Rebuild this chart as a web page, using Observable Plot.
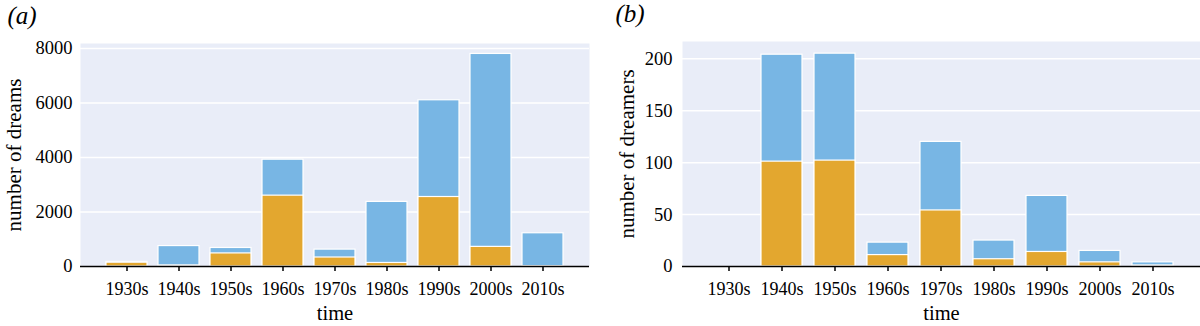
<!DOCTYPE html>
<html>
<head>
<meta charset="utf-8">
<script src="https://cdn.jsdelivr.net/npm/d3@7"></script>
<script src="https://cdn.jsdelivr.net/npm/@observablehq/plot@0.6"></script>
<style>
  body { margin: 0; background: white; }
  #wrap { display: flex; flex-direction: row; width: 1200px; height: 326px; }
  #wrap > div { width: 600px; height: 326px; }
  #wrap svg, #wrap svg text { font-family: "Liberation Serif", "Times New Roman", serif !important; }
</style>
</head>
<body>
<div id="wrap"><div id="pa"></div><div id="pb"></div></div>
<script>
const decades = ["1930s","1940s","1950s","1960s","1970s","1980s","1990s","2000s","2010s"];
const dreamsTotal  = [170, 750, 680, 3920, 620, 2370, 6100, 7800, 1220];
const dreamsSubset = [140, 40, 480, 2600, 330, 130, 2550, 720, 10];
const dreamersTotal  = [0, 204, 205, 23, 120, 25, 68, 15, 4];
const dreamersSubset = [0, 101, 102, 11, 54, 7, 14, 4, 1];
const dreamsTicks = [0, 2000, 4000, 6000, 8000];
const dreamersTicks = [0, 50, 100, 150, 200];

const blue = "#78b6e4";
const orange = "#e3a72f";
const bg = "#e9edf8";

function panel({tag, ylabel, total, subset, ticks, ymax, marginLeft, marginRight, marginTop, tagDx, labelDx, tickPad}) {
  const rows = decades.map((d, i) => ({decade: d, total: total[i], subset: subset[i]}));
  return Plot.plot({
    width: 600,
    height: 326,
    marginLeft, marginRight, marginTop,
    marginBottom: 60,
    style: {fontFamily: "Liberation Serif, serif", fontSize: "18px", color: "black", background: "white", overflow: "visible"},
    x: {domain: decades, paddingInner: 0.22, paddingOuter: 0.46},
    y: {domain: [0, ymax]},
    marks: [
      Plot.frame({fill: bg, stroke: null}),
      Plot.gridY(ticks, {stroke: "white", strokeOpacity: 1, strokeWidth: 1.5}),
      Plot.barY(rows, {x: "decade", y: "total", fill: blue, stroke: "white", strokeWidth: 1.2}),
      Plot.barY(rows, {x: "decade", y: "subset", fill: orange, stroke: "white", strokeWidth: 1.2}),
      Plot.ruleY([0], {stroke: "black", strokeWidth: 1.5}),
      Plot.axisX({tickSize: 5, tickPadding: 11, strokeWidth: 1.5, label: null, fontSize: 18}),
      Plot.axisY({ticks, tickFormat: d => String(d), tickSize: 0, tickPadding: tickPad, label: null, fontSize: 18.5}),
      Plot.text([ylabel], {text: d => d, frameAnchor: "left", textAnchor: "middle", dx: labelDx, rotate: -90, fontSize: 21, lineAnchor: "middle"}),
      Plot.text(["time"], {text: d => d, frameAnchor: "bottom", textAnchor: "middle", dy: 47, fontSize: 20.5, lineAnchor: "middle"}),
      Plot.text([tag], {text: d => d, frameAnchor: "top-left", textAnchor: "start", dx: tagDx, dy: -28, fontSize: 25, fontStyle: "italic", lineAnchor: "middle"})
    ]
  });
}

document.getElementById("pa").append(panel({
  tag: "(a)", ylabel: "number of dreams", total: dreamsTotal, subset: dreamsSubset,
  ticks: dreamsTicks, ymax: 8183, marginLeft: 80, marginRight: 11, marginTop: 43,
  tagDx: -73, labelDx: -66, tickPad: 8
}));
document.getElementById("pb").append(panel({
  tag: "(b)", ylabel: "number of dreamers", total: dreamersTotal, subset: dreamersSubset,
  ticks: dreamersTicks, ymax: 216.7, marginLeft: 82, marginRight: 0, marginTop: 41,
  tagDx: -67, labelDx: -55, tickPad: 10
}));
</script>
</body>
</html>
